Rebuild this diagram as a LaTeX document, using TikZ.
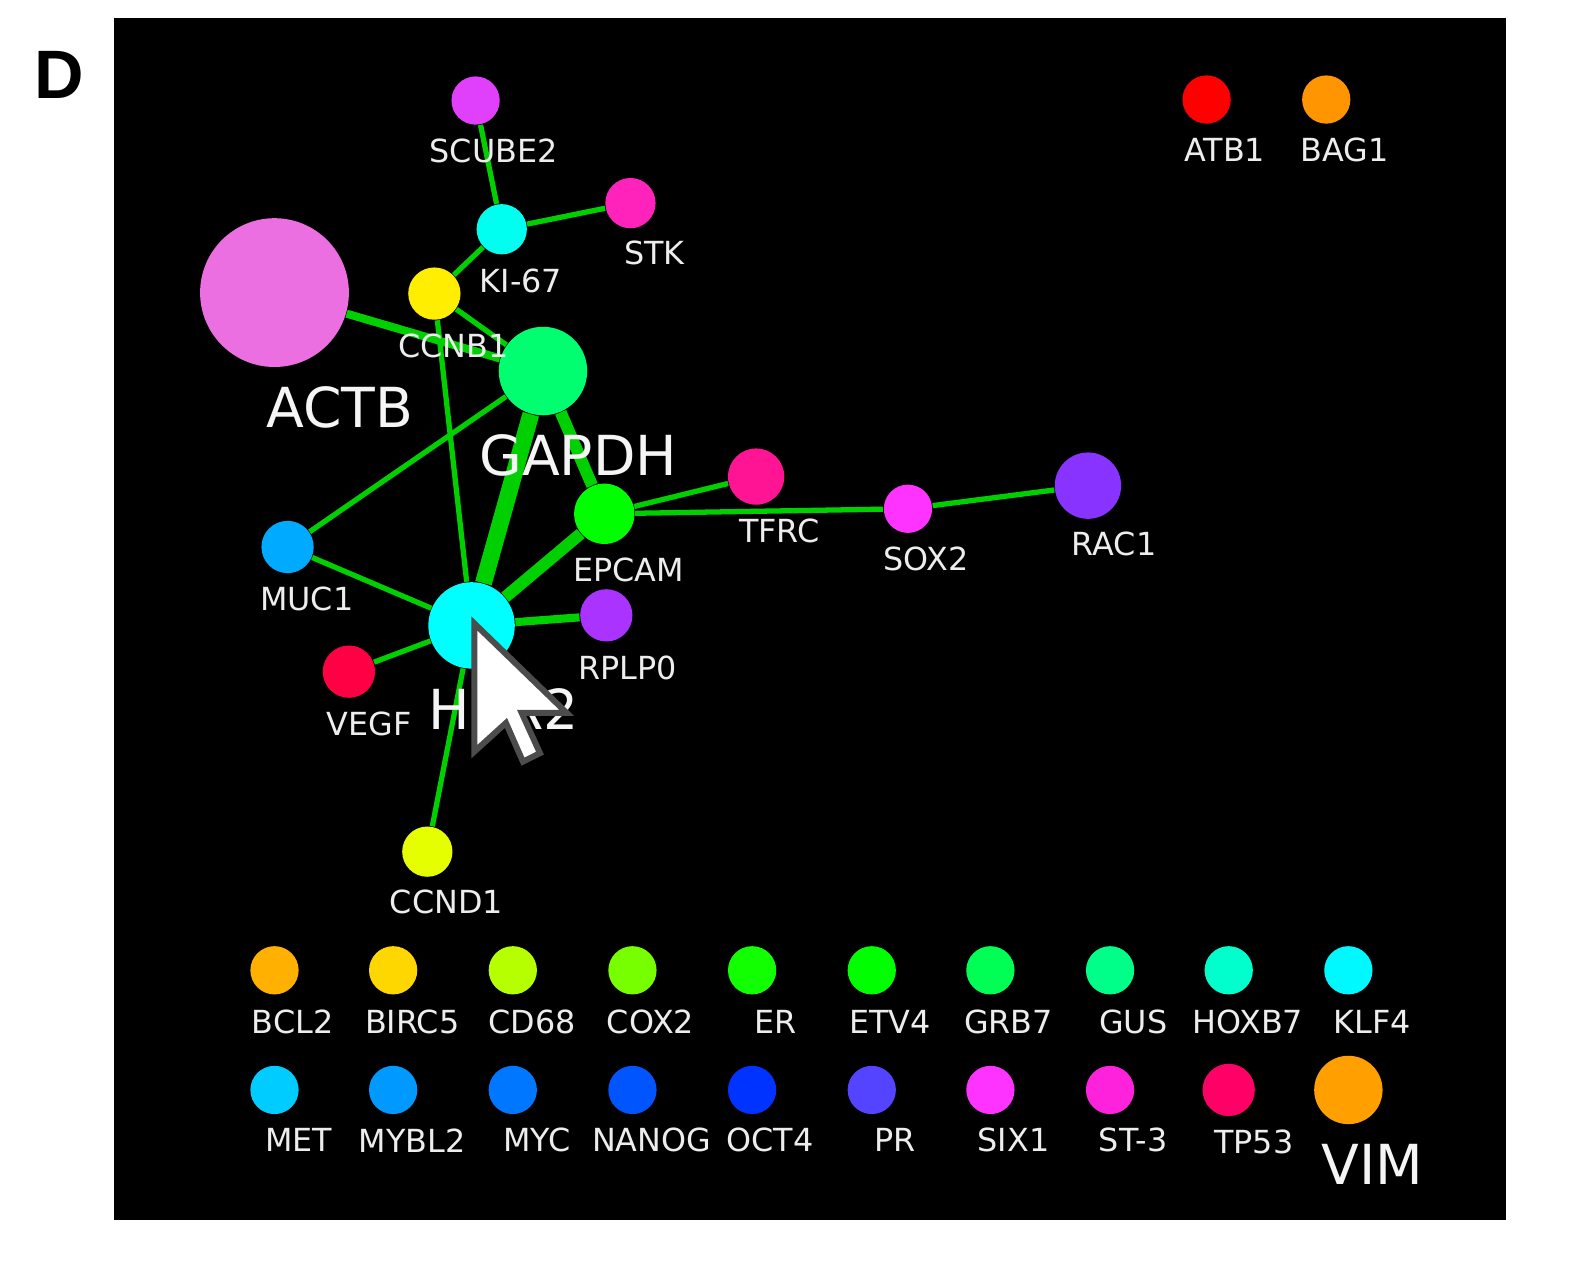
\documentclass[tikz,border=0pt]{standalone}
\usepackage{fontspec}
\setmainfont{DejaVu Sans}
\newfontfamily\panelfont{Liberation Sans}
\usetikzlibrary{backgrounds}

\definecolor{linkgreen}{HTML}{00D000}
\definecolor{cscube}{HTML}{E040FB}
\definecolor{cki}{HTML}{00FFF0}
\definecolor{cstk}{HTML}{FF22BB}
\definecolor{cccnb}{HTML}{FFEE00}
\definecolor{cactb}{HTML}{EB6FE0}
\definecolor{cgapdh}{HTML}{00FF70}
\definecolor{cmuc}{HTML}{00AAFF}
\definecolor{cher}{HTML}{00FFFF}
\definecolor{cepcam}{HTML}{00FF00}
\definecolor{ctfrc}{HTML}{FF1493}
\definecolor{csox}{HTML}{FF33FF}
\definecolor{crac}{HTML}{8833FF}
\definecolor{crplp}{HTML}{AA33FF}
\definecolor{cvegf}{HTML}{FF0044}
\definecolor{cccnd}{HTML}{E6FF00}
\definecolor{catb}{HTML}{FF0000}
\definecolor{cbag}{HTML}{FF9500}
\definecolor{cbcl}{HTML}{FFB000}
\definecolor{cbirc}{HTML}{FFD700}
\definecolor{ccd}{HTML}{B6FF00}
\definecolor{ccox}{HTML}{77FF00}
\definecolor{cer}{HTML}{11FF00}
\definecolor{cetv}{HTML}{00FF00}
\definecolor{cgrb}{HTML}{00FF55}
\definecolor{cgus}{HTML}{00FF88}
\definecolor{choxb}{HTML}{00FFCC}
\definecolor{cklf}{HTML}{00F8FF}
\definecolor{cmet}{HTML}{00CCFF}
\definecolor{cmybl}{HTML}{0099FF}
\definecolor{cmyc}{HTML}{0077FF}
\definecolor{cnanog}{HTML}{0055FF}
\definecolor{coct}{HTML}{0033FF}
\definecolor{cpr}{HTML}{5544FF}
\definecolor{csix}{HTML}{FF33FF}
\definecolor{cst}{HTML}{FF22DD}
\definecolor{ctp}{HTML}{FF0066}
\definecolor{cvim}{HTML}{FFA000}

\tikzset{
    gene/.style n args={2}{circle, inner sep=0pt, minimum size=#1*0.010055cm, fill=#2},
    lab/.style={text=white!93!black, inner sep=0pt, font=\fontsize{9.05}{10}\selectfont},
    biglab/.style={text=white!96!black, inner sep=0pt, font=\fontsize{15.7}{17}\selectfont},
    link/.style={draw=linkgreen, line width=1.5pt},
    linkmid/.style={draw=linkgreen, line width=2.3pt},
    linkthick/.style={draw=linkgreen, line width=3.4pt},
    linkfat/.style={draw=linkgreen, line width=4.8pt},
}

\begin{document}
\begin{tikzpicture}[x=0.010055cm, y=-0.010055cm]

    \useasboundingbox (0,0) rectangle (1567.4,1266);

    \node[font=\panelfont\fontsize{19.5}{21}\selectfont\bfseries, inner sep=0pt] (panelD) at (58.5,75) {D};

    % network
    \node[gene={48}{cscube}] (scube) at (473,100) {};
    \node[gene={50}{cki}] (ki) at (499,228) {};
    \node[gene={50}{cstk}] (stk) at (627,202) {};
    \node[gene={52}{cccnb}] (ccnb) at (432,292) {};
    \node[gene={148}{cactb}] (actb) at (273,291) {};
    \node[gene={88}{cgapdh}] (gapdh) at (540,369) {};
    \node[gene={52}{cmuc}] (muc) at (286,544) {};
    \node[gene={86}{cher}] (her) at (469,622) {};
    \node[gene={60}{cepcam}] (epcam) at (601,511) {};
    \node[gene={56}{ctfrc}] (tfrc) at (752,474) {};
    \node[gene={48}{csox}] (sox) at (903,506) {};
    \node[gene={66}{crac}] (rac) at (1082,483) {};
    \node[gene={52}{crplp}] (rplp) at (603,612) {};
    \node[gene={52}{cvegf}] (vegf) at (347,668) {};
    \node[gene={50}{cccnd}] (ccnd) at (425,847) {};
    \node[gene={48}{catb}] (atb) at (1200,99) {};
    \node[gene={48}{cbag}] (bag) at (1319,99) {};

    % unconnected genes
    \node[gene={48}{cbcl}] (bcl) at (273,965) {};
    \node[gene={48}{cbirc}] (birc) at (391,965) {};
    \node[gene={48}{ccd}] (cd) at (510,965) {};
    \node[gene={48}{ccox}] (cox) at (629,965) {};
    \node[gene={48}{cer}] (er) at (748,965) {};
    \node[gene={48}{cetv}] (etv) at (867,965) {};
    \node[gene={48}{cgrb}] (grb) at (985,965) {};
    \node[gene={48}{cgus}] (gus) at (1104,965) {};
    \node[gene={48}{choxb}] (hoxb) at (1222,965) {};
    \node[gene={48}{cklf}] (klf) at (1341,965) {};
    \node[gene={48}{cmet}] (met) at (273,1084) {};
    \node[gene={48}{cmybl}] (mybl) at (391,1084) {};
    \node[gene={48}{cmyc}] (myc) at (510,1084) {};
    \node[gene={48}{cnanog}] (nanog) at (629,1084) {};
    \node[gene={48}{coct}] (oct) at (748,1084) {};
    \node[gene={48}{cpr}] (pr) at (867,1084) {};
    \node[gene={48}{csix}] (six) at (985,1084) {};
    \node[gene={48}{cst}] (st) at (1104,1084) {};
    \node[gene={52}{ctp}] (tp) at (1222,1084) {};
    \node[gene={68}{cvim}] (vim) at (1341,1084) {};

    \begin{scope}[on background layer]
        \node[fill=black, inner sep=0pt, minimum width=13.92cm, minimum height=12.02cm] (panel) at (806,616) {};
        \path[link]
            (scube) -- (ki)
            (ki) -- (stk)
            (ki) -- (ccnb)
            (ccnb) -- (gapdh)
            (ccnb) -- (her)
            (gapdh) -- (muc)
            (epcam) -- (tfrc)
            (epcam) -- (sox)
            (sox) -- (rac)
            (muc) -- (her)
            (her) -- (vegf)
            (her) -- (ccnd);
        \path[linkmid]
            (actb) -- (gapdh)
            (her) -- (rplp);
        \path[linkthick] (gapdh) -- (epcam);
        \path[linkthick] (her) -- (epcam);
        \path[linkfat] (gapdh) -- (her);
    \end{scope}

    \node[lab] (lscube) at (491,150) {SCUBE2};
    \node[lab] (lki) at (518,279) {KI-67};
    \node[lab] (lstk) at (651,252) {STK};
    \node[lab] (lccnb) at (451,344) {CCNB1};
    \node[biglab] (lactb) at (338,405) {ACTB};
    \node[biglab] (lgapdh) at (575,453) {GAPDH};
    \node[lab] (lmuc) at (305,596) {MUC1};
    \node[biglab] (lher) at (501,705) {HER2};
    \node[lab] (lepcam) at (625,567) {EPCAM};
    \node[lab] (ltfrc) at (775,528) {TFRC};
    \node[lab] (lsox) at (921,556) {SOX2};
    \node[lab] (lrac) at (1108,541) {RAC1};
    \node[lab] (lrplp) at (624,664) {RPLP0};
    \node[lab] (lvegf) at (367,720) {VEGF};
    \node[lab] (lccnd) at (444,897) {CCND1};
    \node[lab] (latb) at (1218,149) {ATB1};
    \node[lab] (lbag) at (1337,149) {BAG1};

    \node[lab] (lbcl) at (291,1016) {BCL2};
    \node[lab] (lbirc) at (410,1016) {BIRC5};
    \node[lab] (lcd) at (529,1016) {CD68};
    \node[lab] (lcox) at (647,1016) {COX2};
    \node[lab] (ler) at (771,1016) {ER};
    \node[lab] (letv) at (885,1016) {ETV4};
    \node[lab] (lgrb) at (1003,1016) {GRB7};
    \node[lab] (lgus) at (1127,1016) {GUS};
    \node[lab] (lhoxb) at (1241,1016) {HOXB7};
    \node[lab] (lklf) at (1365,1016) {KLF4};
    \node[lab] (lmet) at (297,1134) {MET};
    \node[lab] (lmybl) at (410,1134) {MYBL2};
    \node[lab] (lmyc) at (534,1134) {MYC};
    \node[lab] (lnanog) at (648,1134) {NANOG};
    \node[lab] (loct) at (766,1134) {OCT4};
    \node[lab] (lpr) at (890,1134) {PR};
    \node[lab] (lsix) at (1008,1134) {SIX1};
    \node[lab] (lst) at (1127,1134) {ST-3};
    \node[lab] (ltp) at (1247,1136) {TP53};
    \node[biglab] (lvim) at (1365,1158) {VIM};

    % mouse pointer
    \draw[fill=white, draw=black!70, line width=1.7pt, line join=miter]
        (471.7,620) -- (471.7,747.6) -- (503.2,719) -- (520.1,757.5) -- (537,749) -- (518.8,709) -- (563.6,709) -- cycle;

\end{tikzpicture}
\end{document}
